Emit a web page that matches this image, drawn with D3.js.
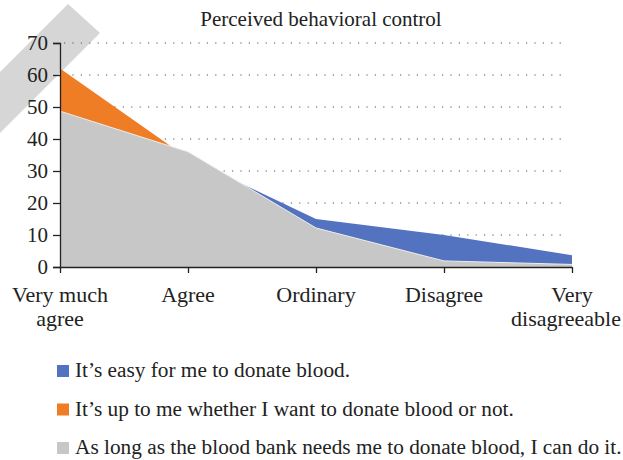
<!DOCTYPE html>
<html>
<head>
<meta charset="utf-8">
<script src="https://cdn.jsdelivr.net/npm/d3@7"></script>
<style>
  body { margin: 0; background: #fff; }
  svg { display: block; font-family: "Liberation Serif", "DejaVu Serif", serif; }
</style>
</head>
<body>
<svg id="chart"></svg>
<script>
// categories and series
const categories = ['Very much agree', 'Agree', 'Ordinary', 'Disagree', 'Very disagreeable']
const catLines = [['Very much', 'agree'], ['Agree'], ['Ordinary'], ['Disagree'], ['Very', 'disagreeable']]
const easyValues = [30, 34, 15, 10, 3.7]
const upToMeValues = [62, 34, 10, 1.5, 0.5]
const bankValues = [48.7, 36, 12.2, 1.9, 0.8]
const yTicks = [0, 10, 20, 30, 40, 50, 60, 70]
const seriesNames = [
  'It\u2019s easy for me to donate blood.',
  'It\u2019s up to me whether I want to donate blood or not.',
  'As long as the blood bank needs me to donate blood, I can do it.'
]
const colors = ['#5372bf', '#ee7d26', '#c6c7c6']

const width = 623
const height = 460
const margin = {top: 43, right: 51, bottom: 193, left: 60}

const svg = d3.select('#chart')
  .attr('width', width)
  .attr('height', height)

// watermark ribbon in the corner
svg.append('polygon')
  .attr('points', '68,4 100,33 0,133 0,72')
  .attr('fill', '#d6d6d6')

const x = d3.scalePoint()
  .domain(categories)
  .range([margin.left, width - margin.right])

const y = d3.scaleLinear()
  .domain([0, 70])
  .range([height - margin.bottom, margin.top])

// title
svg.append('text')
  .attr('x', 321)
  .attr('y', 26)
  .attr('text-anchor', 'middle')
  .style('font-size', '21px')
  .style('fill', '#222')
  .text('Perceived behavioral control')

// dotted grid
svg.append('g')
  .selectAll('line')
  .data(yTicks.filter(d => d > 0))
  .enter()
  .append('line')
  .attr('x1', margin.left + 4)
  .attr('x2', 568)
  .attr('y1', d => y(d))
  .attr('y2', d => y(d))
  .attr('stroke', '#555')
  .attr('stroke-width', 1)
  .attr('stroke-dasharray', '1.2,7.2')

// areas: blue behind, orange, grey on top
const area = d3.area()
  .x((d, i) => x(categories[i]))
  .y0(y(0))
  .y1(d => y(d))

const allSeries = [easyValues, upToMeValues, bankValues]
allSeries.forEach((vals, i) => {
  svg.append('path')
    .datum(vals)
    .attr('d', area)
    .attr('fill', colors[i])
})

// thin light edge on the grey area
svg.append('path')
  .datum(bankValues)
  .attr('d', d3.line().x((d, i) => x(categories[i])).y(d => y(d)))
  .attr('fill', 'none')
  .attr('stroke', '#eeeeee')
  .attr('stroke-width', 1)

// y axis
const yAxis = svg.append('g')
  .attr('transform', 'translate(' + margin.left + ',0)')
  .call(d3.axisLeft(y).tickValues(yTicks).tickSize(7).tickPadding(5))
yAxis.select('.domain').attr('stroke', '#222').attr('stroke-width', 1.3)
yAxis.selectAll('.tick line').attr('stroke', '#222').attr('stroke-width', 1.3)
yAxis.selectAll('.tick text')
  .style('font-size', '21px')
  .style('font-family', '"Liberation Serif", serif')
  .style('fill', '#222')

// x axis
const xAxis = svg.append('g')
  .attr('transform', 'translate(0,' + y(0) + ')')
  .call(d3.axisBottom(x).tickSize(6).tickSizeOuter(0).tickFormat(''))
xAxis.select('.domain').attr('stroke', '#222').attr('stroke-width', 1.3)
xAxis.selectAll('.tick line').attr('stroke', '#222').attr('stroke-width', 1.3)

svg.append('g')
  .selectAll('text')
  .data(categories)
  .enter()
  .append('text')
  .attr('x', d => x(d))
  .attr('y', 302)
  .attr('text-anchor', 'middle')
  .style('font-size', '22px')
  .style('fill', '#222')
  .each(function(d, i) {
    catLines[i].forEach((ln, j) => {
      d3.select(this).append('tspan')
        .attr('x', x(d))
        .attr('dy', j === 0 ? 0 : 24)
        .text(ln)
    })
  })

// keep the last label inside the picture
svg.selectAll('tspan')
  .filter(function() { return d3.select(this).text() === 'disagreeable' })
  .attr('x', width - 2)
  .attr('text-anchor', 'end')

// legend
const legend = svg.append('g')
  .selectAll('g')
  .data(seriesNames)
  .enter()
  .append('g')
  .attr('transform', (d, i) => 'translate(57,' + (365 + i * 38.5) + ')')

legend.append('rect')
  .attr('width', 12)
  .attr('height', 12)
  .attr('fill', (d, i) => colors[i])

legend.append('text')
  .attr('x', 18)
  .attr('y', 12)
  .style('font-size', '21.3px')
  .style('fill', '#222')
  .text(d => d)
</script>
</body>
</html>
